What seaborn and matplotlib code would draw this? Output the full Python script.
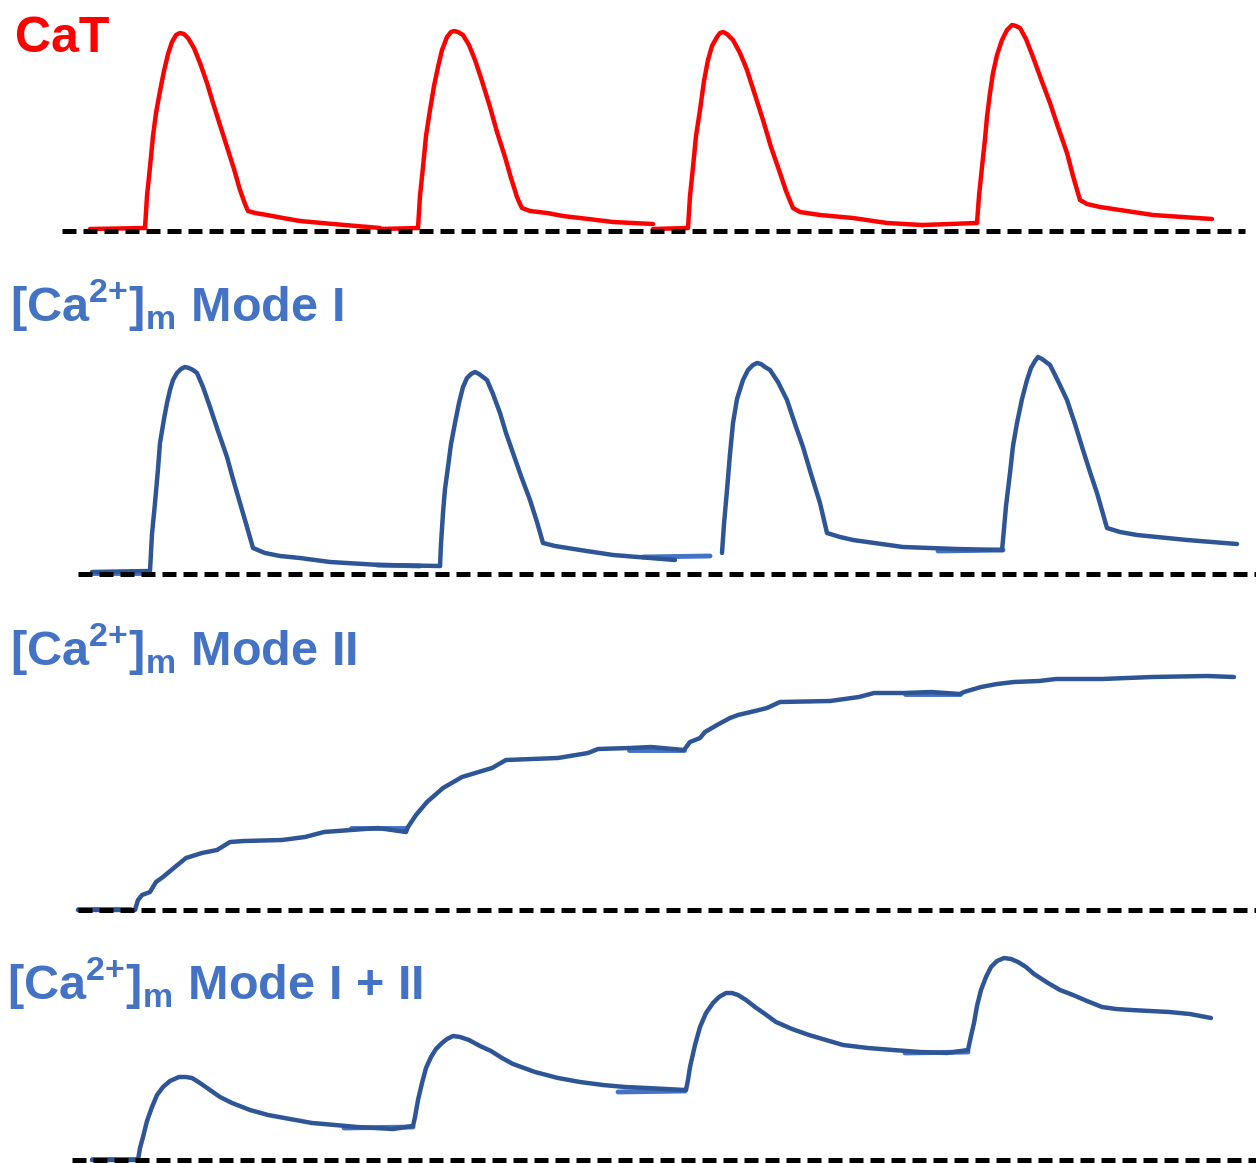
import seaborn as sns
import matplotlib.pyplot as plt
import numpy as np
import pandas as pd

# Data (time in arbitrary units, signal above baseline in arbitrary units)
cat_t = [
    [90, 145, 147, 150, 153, 156, 160, 164, 168, 172, 176, 180, 184, 188, 194, 200, 207, 213, 220,
     227, 234, 240, 245, 248, 255, 267, 283, 300, 333, 380],
    [380, 418, 420, 423, 426, 430, 434, 438, 442, 447, 451, 454, 458, 463, 469, 475, 482, 490, 497,
     505, 511, 517, 520, 522, 530, 547, 563, 580, 613, 653],
    [653, 688, 690, 693, 696, 700, 704, 708, 712, 717, 720, 723, 727, 733, 740, 747, 755, 763, 771,
     780, 786, 793, 800, 820, 853, 887, 922],
    [922, 977, 979, 982, 985, 987, 990, 993, 997, 1002, 1007, 1012, 1016, 1020, 1026, 1033, 1041,
     1050, 1058, 1067, 1073, 1080, 1087, 1100, 1120, 1153, 1212],
]
cat_y = [
    [2, 3, 35, 64, 95, 118, 140, 160, 177, 189, 196, 198, 197, 193, 183, 168, 148, 128, 106,
     84, 62, 41, 27, 20, 18, 16, 13, 10, 7, 3],
    [2, 3, 35, 64, 95, 121, 145, 164, 181, 194, 199, 200, 199, 196, 186, 171, 150, 124, 99,
     74, 53, 34, 27, 23, 20, 18, 15, 13, 9, 7],
    [2, 3, 35, 64, 95, 121, 150, 171, 185, 194, 198, 199, 197, 191, 178, 161, 136, 111, 84,
     58, 40, 23, 19, 16, 13, 8, 6],
    [6, 8, 35, 64, 92, 114, 138, 158, 176, 191, 201, 206, 205, 203, 192, 174, 152,
     128, 104, 78, 55, 31, 27, 24, 21, 16, 12],
]

mode1_t = [
    [92, 148, 150, 152, 155, 158, 160, 164, 167, 170, 173, 177, 181, 185, 189, 193, 197, 203, 210,
     218, 227, 233, 240, 247, 253, 265, 280, 300, 330, 380, 440],
    [440, 441, 443, 445, 448, 451, 455, 459, 463, 467, 471, 475, 479, 483, 487, 493, 500, 506, 513,
     521, 530, 537, 543, 555, 580, 613, 675],
    [722, 724, 727, 730, 733, 737, 743, 748, 753, 757, 761, 765, 770, 778, 787, 795, 803, 811, 820,
     827, 840, 853, 903, 957, 1002],
    [1002, 1003, 1006, 1010, 1013, 1017, 1022, 1027, 1031, 1035, 1038, 1042, 1046, 1050, 1058, 1067,
     1075, 1083, 1090, 1097, 1107, 1120, 1137, 1187, 1237],
]
mode1_y = [
    [2, 3, 3, 40, 71, 105, 131, 155, 171, 184, 194, 201, 205, 207, 206, 204, 201, 187, 167,
     143, 117, 95, 71, 47, 26, 21, 18, 16, 12, 9, 8],
    [8, 30, 61, 85, 107, 130, 151, 171, 187, 196, 200, 202, 200, 197, 194, 180, 161, 141, 121,
     98, 74, 52, 31, 28, 24, 19, 14],
    [21, 50, 84, 120, 151, 175, 194, 204, 209, 211, 210, 207, 204, 192, 174, 150, 127, 100, 71,
     41, 37, 34, 27, 25, 24],
    [24, 34, 68, 101, 128, 151, 175, 194, 206, 213, 217, 215, 212, 209, 193, 174,
     150, 124, 102, 81, 46, 42, 39, 34, 30],
]
mode1_fit_t = [[92, 148], [377, 420], [643, 710], [938, 1003]]
mode1_fit_y = [[1, 1], [9, 8], [17, 18], [23, 24]]

mode2_t = [[78, 135, 138, 142, 150, 156, 163, 175, 186, 202, 217, 230, 244, 282, 305, 324,
            351, 378, 406, 408, 416, 427, 443, 462, 492, 506, 558, 588, 598, 630, 651, 684,
            690, 700, 705, 717, 730, 738, 755, 767, 780, 830, 859, 874, 905, 931, 960, 964,
            981, 997, 1014, 1039, 1056, 1102, 1152, 1207, 1234]]
mode2_y = [[0, 0, 10, 15, 18, 28, 33, 43, 52, 57, 60, 68, 69, 70, 73, 78,
            80, 82, 78, 83, 95, 108, 122, 133, 142, 150, 152, 157, 161, 162, 163, 160,
            168, 172, 178, 185, 192, 195, 199, 202, 208, 209, 213, 217, 217, 218, 216, 218,
            223, 226, 228, 229, 231, 231, 233, 234, 233]]
mode2_fit_t = [[78, 130], [351, 406], [629, 684], [905, 960]]
mode2_fit_y = [[1, 1], [82, 82], [160, 160], [216, 216]]

mode12_t = [
    [92, 136, 138, 140, 143, 147, 152, 157, 163, 170, 179, 186, 192, 200, 210, 220, 232, 250, 268,
     290, 312, 335, 357, 393, 413],
    [413, 415, 418, 422, 426, 431, 436, 442, 447, 453, 460, 469, 480, 491, 502, 513, 535, 558, 580,
     603, 625, 647, 685],
    [685, 686, 688, 690, 695, 700, 706, 713, 719, 726, 732, 738, 746, 755, 765, 776, 792, 809, 826,
     843, 868, 893, 920, 947, 968],
    [968, 971, 974, 977, 981, 986, 991, 997, 1004, 1011, 1018, 1026, 1034, 1048, 1060, 1073, 1087,
     1102, 1116, 1131, 1150, 1169, 1190, 1211],
]
mode12_y = [
    [0, 0, 0, 12, 23, 39, 53, 65, 73, 79, 83, 83, 82, 77, 70, 63, 57, 50, 45,
     41, 37, 35, 33, 31, 34],
    [34, 43, 60, 77, 92, 103, 111, 117, 121, 124, 123, 120, 114, 109, 102, 96, 88, 82, 78,
     75, 73, 72, 70],
    [70, 70, 80, 93, 115, 133, 147, 157, 163, 167, 167, 165, 160, 153, 146, 138, 131, 125, 120,
     115, 112, 110, 108, 107, 110],
    [110, 124, 137, 154, 170, 183, 193, 199, 202, 201, 198, 193, 186, 177, 170, 165, 159,
     153, 151, 150, 149, 148, 146, 142],
]
mode12_fit_t = [[92, 136], [344, 413], [618, 685], [905, 968]]
mode12_fit_y = [[1, 1], [32, 33], [68, 69], [107, 108]]

titles = ['CaT',
          r'[Ca$^{\mathbf{2{+}}}$]$_{\mathbf{m}}$ Mode I',
          r'[Ca$^{\mathbf{2{+}}}$]$_{\mathbf{m}}$ Mode II',
          r'[Ca$^{\mathbf{2{+}}}$]$_{\mathbf{m}}$ Mode I + II']

sns.set_style('white')
plt.rcParams['font.family'] = ['Liberation Sans', 'DejaVu Sans']
plt.rcParams['mathtext.fontset'] = 'custom'
plt.rcParams['mathtext.rm'] = 'Liberation Sans'
plt.rcParams['mathtext.bf'] = 'Liberation Sans:bold'

W, H = 1256, 1163
fig = plt.figure(figsize=(W / 100, H / 100), dpi=100)

RED = '#FF0000'
DARK = '#2E5595'
LIGHT = '#4472C4'


def to_frame(ts, ys):
    rows = []
    for i, (t, y) in enumerate(zip(ts, ys)):
        rows.append(pd.DataFrame({'t': t, 'signal': y, 'segment': i}))
    return pd.concat(rows, ignore_index=True)


def panel(baseline, top, x0, x1):
    ax = fig.add_axes([0, (H - baseline - 10) / H, 1, (baseline + 10 - top) / H])
    ax.set_xlim(0, W)
    ax.set_ylim(-10, baseline - top)
    ax.axis('off')
    ax.hlines(0, x0, x1, colors='black', linewidth=3.6,
              linestyles=(0, (2.8, 1.4)), zorder=5)
    return ax


def trace(ax, ts, ys, color, lw=3.2, z=3):
    sns.lineplot(data=to_frame(ts, ys), x='t', y='signal', units='segment',
                 estimator=None, sort=False, color=color, linewidth=lw,
                 legend=False, ax=ax, zorder=z)


# CaT
ax1 = panel(231, 0, 62, 1245)
trace(ax1, cat_t, cat_y, RED)

# Mode I
ax2 = panel(574, 335, 78, 1256)
trace(ax2, mode1_fit_t, mode1_fit_y, LIGHT, lw=3.5, z=2)
trace(ax2, mode1_t, mode1_y, DARK)

# Mode II
ax3 = panel(910, 640, 78, 1256)
trace(ax3, mode2_fit_t, mode2_fit_y, LIGHT, lw=3.5, z=2)
trace(ax3, mode2_t, mode2_y, DARK)

# Mode I + II
ax4 = panel(1160, 930, 72, 1256)
trace(ax4, mode12_fit_t, mode12_fit_y, LIGHT, lw=3.5, z=2)
trace(ax4, mode12_t, mode12_y, DARK)

# Titles
title_pos = [(15, 52), (10, 322), (10, 666), (7, 1000)]
title_colors = [RED, LIGHT, LIGHT, LIGHT]
title_sizes = [36, 35, 35, 35]
for label, (x, y), c, fs in zip(titles, title_pos, title_colors, title_sizes):
    fig.text(x / W, 1 - y / H, label, ha='left', va='baseline',
             fontsize=fs, fontweight='bold', color=c)

plt.savefig('out.png', dpi=100)
